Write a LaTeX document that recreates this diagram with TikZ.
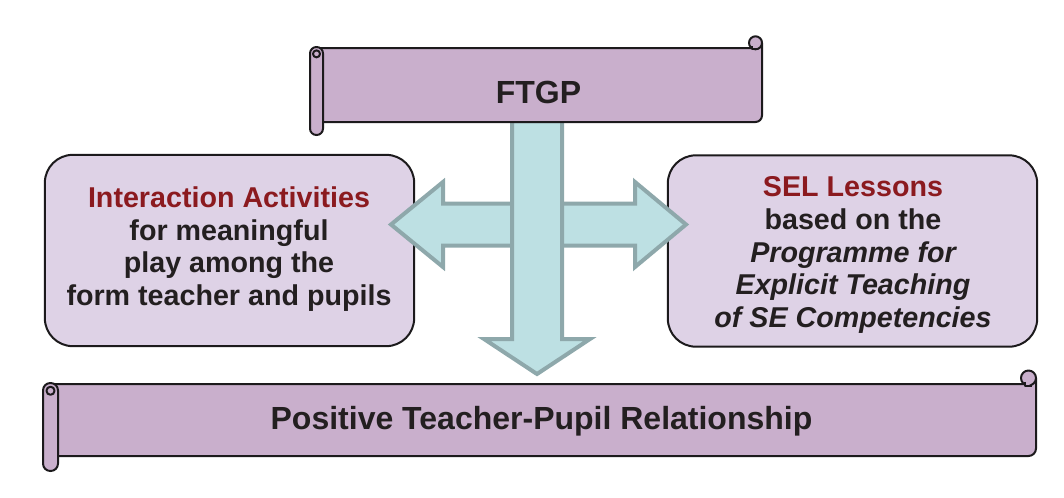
\documentclass[tikz,border=0pt]{standalone}
\usepackage{fontspec}
\setmainfont{Liberation Sans}
\definecolor{scrollfill}{HTML}{C9AFCC}
\definecolor{boxfill}{HTML}{DED2E6}
\definecolor{edgeblack}{HTML}{1C1A1C}
\definecolor{textdark}{HTML}{231F20}
\definecolor{titlered}{HTML}{8B1A1F}
\definecolor{arrowfill}{HTML}{BDE0E3}
\definecolor{arrowedge}{HTML}{8EA8AB}
% Horizontal scroll banner: #1 left, #2 right, #3 top, #4 bottom, #5 roll width
\newcommand\hscroll[5]{%
  \filldraw[scrollpart] ({#1+#5/2},#3) -- ({#2-#5/2},#3) -- (#2,{#3-0.4*#5})
    -- (#2,{#4-#5/2}) arc[start angle=0,end angle=90,radius={#5/2}]
    -- ({#1+#5/2},#4) -- cycle;
  \filldraw[scrollpart] ({#2-#5/2},{#3-0.4*#5}) circle[radius={#5/2}];
  \draw[scrollpart] ({#2-0.75*#5},{#3-0.15*#5}) -- ({#2-0.75*#5},{#3+0.1*#5}) -- ({#2-0.3*#5},{#3+0.1*#5});
  \filldraw[scrollpart,rounded corners={#5*0.37pt}] (#1,{#3-1}) rectangle ({#1+#5},{#4+#5});
  \draw[scrollpart] ({#1+#5/2},{#3+0.45*#5}) circle[radius={0.27*#5}];
}
\begin{document}
\begin{tikzpicture}[x=0.75pt,y=-0.75pt,
  scrollpart/.style={fill=scrollfill,draw=edgeblack,line width=1.5pt,line join=round},
  sidebox/.style={draw=edgeblack,fill=boxfill,line width=1.5pt,rounded corners=21pt,
    minimum width=277pt,minimum height=143.5pt,inner sep=0pt},
  boxtext/.style={inner sep=0pt,align=center,text=textdark,
    font=\fontsize{21.5pt}{24.6pt}\selectfont\bfseries},
  bannertext/.style={inner sep=0pt,anchor=base,text=textdark,
    font=\fontsize{24pt}{28pt}\selectfont\bfseries},
  blockarrow/.style={fill=arrowfill,draw=arrowedge,line width=3pt,line join=miter}]
\useasboundingbox (0,0) rectangle (1064,497);

% side boxes
\node[sidebox] (ia) at (229.5,250.5) {};
\node[sidebox] (sel) at (852.5,251) {};

% double-headed horizontal arrow
\path[blockarrow] (443,203.5) -- (443,182) -- (391,224.5) -- (443,267) -- (443,245.5)
  -- (635,245.5) -- (635,267) -- (686,224.5) -- (635,182) -- (635,203.5) -- cycle;
% downward arrow
\path[blockarrow] (512,121) -- (512,339) -- (484,339) -- (537,374) -- (590,339)
  -- (562,339) -- (562,121) -- cycle;

% banners
\hscroll{310}{762}{48}{122}{13}
\hscroll{43}{1036}{384}{456}{15}

\node[bannertext] (ftgp) at (538.5,103) {FTGP};
\node[bannertext] (ptpr) at (541.5,429) {Positive Teacher-Pupil Relationship};

\node[boxtext] (iatext) at (229,249)
  {\textcolor{titlered}{Interaction Activities}\\ for meaningful\\ play among the\\ form teacher and pupils};
\node[boxtext] (seltext) at (853,255)
  {\textcolor{titlered}{SEL Lessons}\\ based on the\\ \itshape Programme for\\ \itshape Explicit Teaching\\ \itshape of SE Competencies};
\end{tikzpicture}
\end{document}
